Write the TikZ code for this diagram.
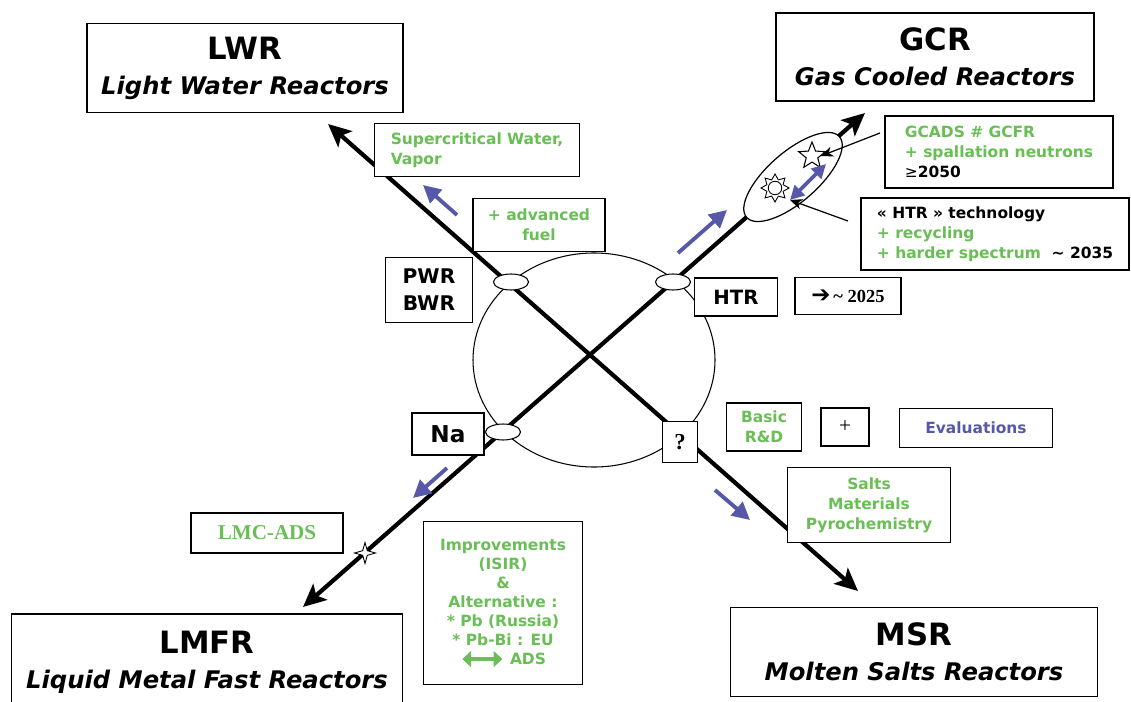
\documentclass[tikz,border=0pt]{standalone}
\usepackage{fontspec}
\setmainfont{DejaVu Sans}
\newfontfamily\timesfont{Liberation Serif}
\usetikzlibrary{shapes.geometric,arrows.meta}
\definecolor{vgreen}{RGB}{105,190,85}
\definecolor{vblue}{RGB}{88,88,168}
\newcommand{\gsize}{\bfseries\fontsize{8.8}{11.3}\selectfont}
\newcommand{\bigsize}{\fontsize{17.5}{20}\selectfont}
\newcommand{\twoway}{\tikz[baseline=-0.6ex]\draw[vgreen, line width=2.6pt, {Triangle[length=5pt,width=9pt]}-{Triangle[length=5pt,width=9pt]}] (0cm,0cm) -- (0.8cm,0cm);}

\begin{document}
\begin{tikzpicture}[x=0.02cm, y=-0.02cm]
\tikzstyle{box}=[draw, line width=0.8pt, fill=white, inner sep=2pt]
\tikzstyle{title}=[box, align=center, font=\bfseries\fontsize{13.8}{20}\selectfont]
\tikzstyle{gtxt}=[box, align=center, text=vgreen, font=\gsize]
\tikzstyle{ktxt}=[box, align=center, font=\bfseries\fontsize{11.5}{15.3}\selectfont]
\tikzstyle{axis}=[line width=2.4pt, {Stealth[length=13pt,width=12pt,inset=3pt]}-{Stealth[length=13pt,width=12pt,inset=3pt]}]
\tikzstyle{bluearrow}=[vblue, line width=2.2pt, -{Triangle[length=10pt,width=10pt]}]
\tikzstyle{pointer}=[line width=0.7pt, -{Stealth[length=7pt,width=6pt]}]
\tikzstyle{hole}=[draw, ellipse, fill=white, line width=0.6pt, minimum width=0.7cm, minimum height=0.32cm, inner sep=0pt]
\useasboundingbox (0,0) rectangle (1131,702);

% the two axes and the ring
\coordinate (lwrtip) at (328,124);
\coordinate (msrtip) at (858,591);
\coordinate (lmfrtip) at (303,607);
\coordinate (gcrtip) at (865,113);
\draw[axis] (lwrtip) -- (msrtip);
\draw[axis] (lmfrtip) -- (gcrtip);
\draw[line width=0.6pt] (594,360) ellipse [x radius=121, y radius=107];
\node[hole] (pwrhole) at (511,282) {};
\node[hole] (htrhole) at (673,282) {};
\node[hole] (nahole) at (503,432) {};

% gas cooled branch
\node[draw, ellipse, fill=white, line width=0.7pt, rotate=41, minimum width=2.46cm, minimum height=1.0cm] (gcrring) at (793,177) {};
\node[draw, star, star points=5, star point ratio=2.3, fill=white, line width=0.6pt, minimum size=0.56cm, inner sep=0pt] (gstar) at (812,156) {};
\node[draw, star, star points=8, star point ratio=1.6, fill=white, line width=0.5pt, minimum size=0.56cm, inner sep=0pt] (sun) at (775,188) {};
\node[draw, circle, fill=white, line width=0.5pt, minimum size=0.27cm, inner sep=0pt] (suncore) at (775,188) {};
\coordinate (sunend) at (790,200);
\coordinate (starend) at (826,164);
\draw[vblue, line width=2.2pt, {Triangle[length=8pt,width=8pt]}-{Triangle[length=8pt,width=8pt]}] (sunend) -- (starend);

% boxes
\node[title, minimum width=6.32cm, minimum height=1.78cm] (lwr) at (245,68) {{\bigsize LWR}\\\itshape Light Water Reactors};
\node[title, minimum width=6.36cm, minimum height=1.76cm] (gcr) at (935,57) {{\bigsize GCR}\\\itshape Gas Cooled Reactors};
\node[title, minimum width=7.82cm, minimum height=1.92cm] (lmfr) at (207,662) {{\bigsize LMFR}\\\itshape Liquid Metal Fast Reactors};
\node[title, minimum width=7.34cm, minimum height=1.78cm] (msr) at (914,652) {{\bigsize MSR}\\\itshape Molten Salts Reactors};

\node[gtxt, align=left, minimum width=4.1cm, minimum height=1.06cm] (supercrit) at (477,150) {Supercritical Water,\\Vapor};
\node[gtxt, minimum width=2.64cm, minimum height=1.06cm] (advfuel) at (539,225) {+ advanced\\fuel};
\node[ktxt, minimum width=1.74cm, minimum height=1.3cm] (pwr) at (429,290) {PWR\\BWR};
\node[ktxt, font=\bfseries\fontsize{11.2}{13}\selectfont, minimum width=1.66cm, minimum height=0.76cm] (htr) at (736,297) {HTR};
\node[box, minimum width=2.12cm, minimum height=0.74cm] (y2025) at (848,296) {{\bfseries\fontsize{13}{12}\selectfont ➔}\,{\timesfont\bfseries\fontsize{10.5}{12}\selectfont\textasciitilde\ 2025}};
\node[gtxt, align=left, minimum width=4.56cm, minimum height=1.44cm] (gcads) at (999,152) {GCADS \# GCFR\\+ spallation neutrons\\{\color{black}{\mdseries ≥}2050}};
\node[gtxt, align=left, minimum width=5.36cm, minimum height=1.44cm] (htrtech) at (995,234) {{\color{black}« HTR » technology}\\+ recycling\\+ harder spectrum \ {\color{black}\textasciitilde\ 2035}};
\node[ktxt, font=\bfseries\fontsize{13.2}{15}\selectfont, minimum width=1.44cm, minimum height=0.84cm] (na) at (448,434) {Na};
\node[box, font=\timesfont\bfseries\fontsize{13}{14}\selectfont, minimum width=0.7cm, minimum height=0.82cm] (qmark) at (680,442) {?};
\node[gtxt, minimum width=1.5cm, minimum height=0.96cm] (basic) at (764,427) {Basic\\R\&D};
\node[box, font=\timesfont\fontsize{12}{13}\selectfont, minimum width=0.96cm, minimum height=0.76cm] (plus) at (845,427) {+};
\node[gtxt, text=vblue, minimum width=3.06cm, minimum height=0.78cm] (evals) at (976,428) {Evaluations};
\node[gtxt, minimum width=3.26cm, minimum height=1.5cm] (salts) at (869,505) {Salts\\Materials\\Pyrochemistry};
\node[gtxt, font=\timesfont\bfseries\fontsize{12}{13}\selectfont, minimum width=3.04cm, minimum height=0.8cm] (lmcads) at (267,533) {LMC-ADS};
\node[gtxt, font=\bfseries\fontsize{8.8}{10.8}\selectfont, minimum width=3.18cm, minimum height=3.26cm] (improv) at (503,603) {Improvements\\(ISIR)\\\&\\Alternative :\\* Pb (Russia)\\* Pb-Bi : EU\\\twoway\ ADS};
\node[draw, star, star points=4, star point ratio=3.2, fill=white, line width=0.5pt, minimum size=0.42cm, inner sep=0pt] (lstar) at (365,553) {};

% pointers into the gas ring
\coordinate (gcadsfoot) at (880,133);
\coordinate (htrfoot) at (848,221);
\draw[pointer] (gcadsfoot) -- (gstar.east);
\draw[pointer] (htrfoot) -- (sunend);

% trend arrows
\coordinate (b1a) at (457,215); \coordinate (b1b) at (423,185);
\coordinate (b2a) at (678,253); \coordinate (b2b) at (727,210);
\coordinate (b3a) at (447,468); \coordinate (b3b) at (413,498);
\coordinate (b4a) at (715,490); \coordinate (b4b) at (750,520);
\draw[bluearrow] (b1a) -- (b1b);
\draw[bluearrow] (b2a) -- (b2b);
\draw[bluearrow] (b3a) -- (b3b);
\draw[bluearrow] (b4a) -- (b4b);
\end{tikzpicture}
\end{document}
